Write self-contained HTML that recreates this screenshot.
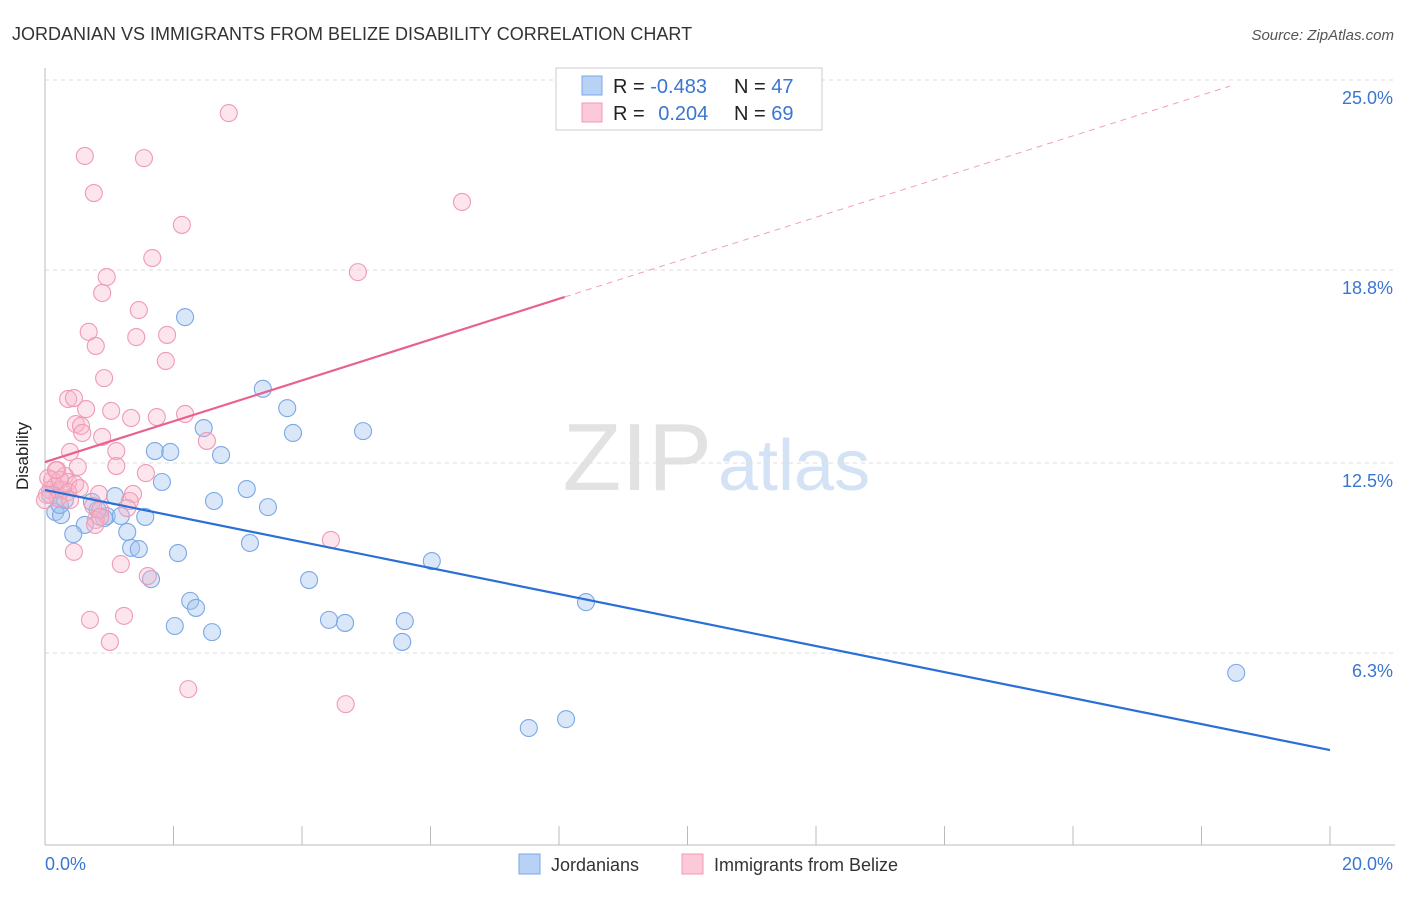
<!DOCTYPE html>
<html><head><meta charset="utf-8"><style>
body{margin:0;background:#fff;font-family:"Liberation Sans",sans-serif;}
svg text{font-family:"Liberation Sans",sans-serif;}
</style></head><body>
<svg id="chart" width="1406" height="892">
<text x="12" y="40" font-size="18" fill="#333">JORDANIAN VS IMMIGRANTS FROM BELIZE DISABILITY CORRELATION CHART</text>
<text x="1394" y="40" font-size="15" fill="#555" font-style="italic" text-anchor="end">Source: ZipAtlas.com</text>
<text x="712" y="490" font-size="96" fill="#e2e2e2" text-anchor="end" font-family="Liberation Serif">ZIP</text>
<text x="718" y="490" font-size="72" fill="#d3e2f4">atlas</text>
<g id="grid"></g>
<line x1="45" y1="68" x2="45" y2="845" stroke="#bbb"/>
<line x1="45" y1="845" x2="1395" y2="845" stroke="#bbb"/>
<text x="28" y="456" font-size="17" fill="#222" text-anchor="middle" transform="rotate(-90 28 456)">Disability</text>
<text x="45" y="870" font-size="18" fill="#3a76d0">0.0%</text>
<text x="1393" y="870" font-size="18" fill="#3a76d0" text-anchor="end">20.0%</text>
<g id="pts"></g>
<g id="lines"></g>
<g>
<rect x="556" y="68" width="266" height="62" fill="#fff" stroke="#ccc"/>
<rect x="582" y="76" width="20" height="19" fill="#b7d2f5" stroke="#7aa8e6"/>
<rect x="582" y="103" width="20" height="19" fill="#fbc9d8" stroke="#f09ab5"/>
<text x="613" y="93" font-size="20" fill="#222">R = <tspan fill="#3a76d0">-0.483</tspan></text>
<text x="734" y="93" font-size="20" fill="#222">N = <tspan fill="#3a76d0">47</tspan></text>
<text x="613" y="120" font-size="20" fill="#222">R = <tspan fill="#3a76d0" dx="8">0.204</tspan></text>
<text x="734" y="120" font-size="20" fill="#222">N = <tspan fill="#3a76d0">69</tspan></text>
</g>
<g>
<rect x="519" y="854" width="21" height="20" fill="#b7d2f5" stroke="#7aa8e6"/>
<text x="551" y="871" font-size="18" fill="#333">Jordanians</text>
<rect x="682" y="854" width="21" height="20" fill="#fbc9d8" stroke="#f09ab5"/>
<text x="714" y="871" font-size="18" fill="#333">Immigrants from Belize</text>
</g>
</svg>
<script>
const yTicks=[25.0,18.8,12.5,6.3];
const yTickLabels=["25.0%","18.8%","12.5%","6.3%"];
const xTicks=[0,2,4,6,8,10,12,14,16,18,20];
const blueX=[2.18,3.39,3.77,3.86,4.95,2.47,1.71,1.95,2.74,1.82,3.14,1.09,2.63,3.47,0.73,0.16,0.25,0.96,1.18,1.56,0.62,0.44,1.28,1.34,1.46,2.07,3.19,1.65,4.11,6.02,2.26,2.35,8.42,2.02,2.60,4.42,4.67,5.60,5.56,18.54,7.53,8.11,0.92,0.82,0.31,0.08,0.23];
const blueY=[17.26,14.92,14.29,13.48,13.54,13.64,12.89,12.86,12.76,11.88,11.65,11.42,11.26,11.06,11.23,10.90,10.80,10.77,10.77,10.74,10.48,10.18,10.25,9.73,9.69,9.56,9.89,8.71,8.68,9.30,8.00,7.77,7.96,7.18,6.98,7.38,7.28,7.34,6.66,5.65,3.85,4.14,10.70,10.97,11.29,11.46,11.13];
const pinkX=[2.86,0.62,1.54,0.76,6.49,2.13,1.67,0.96,0.89,4.87,1.46,0.68,1.42,1.90,0.79,1.88,0.92,0.36,0.45,0.64,1.03,1.34,1.74,2.18,0.48,0.56,0.58,0.89,2.52,0.39,1.11,0.51,1.11,1.57,0.19,0.31,0.36,0.47,1.37,0.84,0.11,0.16,0.08,0.26,0.05,0.23,0.36,0.75,1.32,1.28,0.86,0.79,0.78,0.86,0.20,0.45,1.18,1.60,4.45,1.23,0.70,1.01,2.23,4.68,0.03,0.39,0.54,0.17,0.00];
const pinkY=[23.92,22.52,22.45,21.31,21.02,20.27,19.19,18.57,18.05,18.73,17.49,16.78,16.61,16.68,16.32,15.83,15.27,14.59,14.62,14.26,14.20,13.97,14.00,14.10,13.77,13.71,13.48,13.35,13.22,12.86,12.89,12.37,12.40,12.17,12.27,12.08,11.88,11.81,11.49,11.49,11.95,11.75,11.62,11.62,12.01,11.95,11.55,11.10,11.26,11.03,10.97,10.64,10.48,10.74,11.36,9.60,9.20,8.81,9.99,7.51,7.38,6.66,5.12,4.63,11.46,11.29,11.68,12.27,11.29];
const blueTrend=[[0,11.62],[20,3.13]];
const pinkTrend=[[0,12.53],[8.09,17.92]];
const pinkTrendExt=[[8.09,17.92],[18.44,24.8]];
const NS="http://www.w3.org/2000/svg";
const sx=v=>45+v*64.25, sy=v=>846-v*30.64;
function mk(t,a,p){const e=document.createElementNS(NS,t);for(const k in a)e.setAttribute(k,a[k]);p.appendChild(e);return e;}
const grid=document.getElementById('grid');
yTicks.forEach((t,i)=>{
 const l=mk('line',{x1:45,x2:1395,y1:sy(t),y2:sy(t),stroke:'#ddd','stroke-dasharray':'4,4'},grid);
 
 
 const tx=mk('text',{x:1393,y:sy(t)+24,'font-size':18,fill:'#3a76d0','text-anchor':'end'},grid);
 tx.textContent=yTickLabels[i];
 
 
});
xTicks.forEach(t=>{
 const l=mk('line',{x1:sx(t),x2:sx(t),y1:826,y2:845,stroke:'#bbb'},grid);
 
 
});
const pts=document.getElementById('pts');
blueX.forEach((x,i)=>{
 const c=mk('circle',{cx:sx(x),cy:sy(blueY[i]),r:8.5,fill:'rgba(160,196,240,0.4)',stroke:'#7aa8e6','stroke-width':1.1},pts);
 
 
});
pinkX.forEach((x,i)=>{
 const c=mk('circle',{cx:sx(x),cy:sy(pinkY[i]),r:8.5,fill:'rgba(247,180,200,0.35)',stroke:'#f09ab5','stroke-width':1.1},pts);
 
 
});
const lines=document.getElementById('lines');
let l1=mk('line',{x1:sx(blueTrend[0][0]),y1:sy(blueTrend[0][1]),x2:sx(blueTrend[1][0]),y2:sy(blueTrend[1][1]),stroke:'#2a6fd6','stroke-width':2.2},lines);


let l2=mk('line',{x1:sx(pinkTrend[0][0]),y1:sy(pinkTrend[0][1]),x2:sx(pinkTrend[1][0]),y2:sy(pinkTrend[1][1]),stroke:'#e8628f','stroke-width':2.2},lines);


let l3=mk('line',{x1:sx(pinkTrendExt[0][0]),y1:sy(pinkTrendExt[0][1]),x2:sx(pinkTrendExt[1][0]),y2:sy(pinkTrendExt[1][1]),stroke:'#eea0b8','stroke-width':1,'stroke-dasharray':'6,5'},lines);


</script>
</body></html>
